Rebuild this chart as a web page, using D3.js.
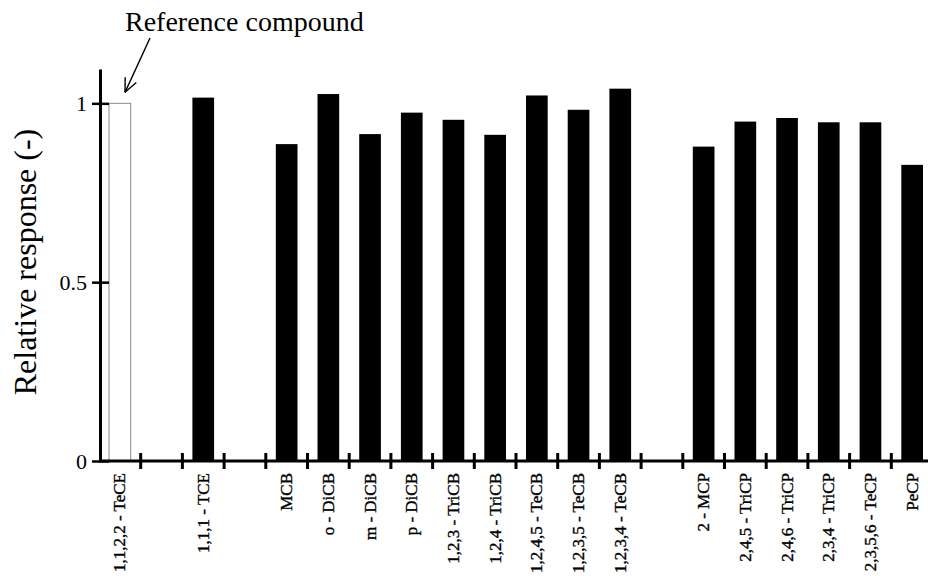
<!DOCTYPE html>
<html>
<head>
<meta charset="utf-8">
<script src="https://cdn.jsdelivr.net/npm/d3@7"></script>
<style>
  html, body { margin: 0; padding: 0; background: #fff; }
  svg { display: block; }
  text { font-family: "Liberation Serif", "Times New Roman", serif; fill: #000; }
</style>
</head>
<body>
<svg id="chart" width="928" height="576"></svg>
<script>
// ---- data ----
const categories = [
  "1,1,2,2 - TeCE",
  "1,1,1 - TCE",
  "MCB", "o - DiCB", "m - DiCB", "p - DiCB", "1,2,3 - TriCB", "1,2,4 - TriCB",
  "1,2,4,5 - TeCB", "1,2,3,5 - TeCB", "1,2,3,4 - TeCB",
  "2 - MCP", "2,4,5 - TriCP", "2,4,6 - TriCP", "2,3,4 - TriCP", "2,3,5,6 - TeCP", "PeCP"
];
const groups = [
  "ref",
  "ethane",
  "benzene", "benzene", "benzene", "benzene", "benzene", "benzene",
  "benzene", "benzene", "benzene",
  "phenol", "phenol", "phenol", "phenol", "phenol", "phenol"
];
const values = [
  1.000,
  1.016,
  0.886, 1.026, 0.914, 0.974, 0.954, 0.912,
  1.022, 0.982, 1.041,
  0.879, 0.949, 0.959, 0.947, 0.947, 0.828
];
const yTicks = [0, 0.5, 1];
const yLabel = "Relative response (-)";
const annotationText = "Reference compound";
const referenceCategory = "1,1,2,2 - TeCE";

// ---- build slot domain (one empty slot between groups) ----
const slots = [];
categories.forEach((c, i) => {
  if (i > 0 && groups[i] !== groups[i - 1]) slots.push("__gap" + i);
  slots.push(c);
});

const svg = d3.select("#chart");
const x0 = 99, xEnd = 933, yZero = 461, yTop = 69;

const x = d3.scaleBand()
  .domain(slots)
  .range([x0, xEnd])
  .paddingInner(0.48)
  .paddingOuter(0.24);

const y = d3.scaleLinear()
  .domain([0, 1.096])
  .range([yZero, yTop]);

const step = x.step();

// ---- bars ----
const data = categories.map((c, i) => ({ c, v: values[i] }));
svg.append("g").selectAll("rect")
  .data(data)
  .join("rect")
  .attr("x", d => x(d.c))
  .attr("width", x.bandwidth())
  .attr("y", d => y(d.v))
  .attr("height", d => y(0) - y(d.v))
  .attr("fill", d => d.c === referenceCategory ? "none" : "#000")
  .attr("stroke", d => d.c === referenceCategory ? "#8a8a8a" : "none")
  .attr("stroke-width", 1);

// ---- x axis ----
const xg = svg.append("g");
xg.append("line")
  .attr("x1", x0).attr("x2", 928)
  .attr("y1", yZero).attr("y2", yZero)
  .attr("stroke", "#000").attr("stroke-width", 3);
const boundaries = d3.range(1, slots.length + 1).map(i => x0 + i * step);
xg.selectAll("line.tk")
  .data(boundaries)
  .join("line")
  .attr("class", "tk")
  .attr("x1", d => d).attr("x2", d => d)
  .attr("y1", yZero - 8).attr("y2", yZero + 8)
  .attr("stroke", "#000").attr("stroke-width", 3);
xg.selectAll("text")
  .data(categories)
  .join("text")
  .attr("transform", d => `translate(${x(d) + x.bandwidth() / 2},${yZero + 12}) rotate(-90)`)
  .attr("text-anchor", "end")
  .attr("dy", "0.33em")
  .attr("font-size", 17)
  .attr("stroke", "#000")
  .attr("stroke-width", 0.35)
  .text(d => d);

// ---- y axis ----
const yAxis = d3.axisLeft(y)
  .tickValues(yTicks)
  .tickFormat(d3.format("~g"))
  .tickSizeOuter(0)
  .tickPadding(6);
const yg = svg.append("g").attr("transform", `translate(${x0 + 1},0)`).call(yAxis);
yg.select(".domain").attr("stroke", "#000").attr("stroke-width", 3);
yg.selectAll(".tick line").attr("x1", -8).attr("x2", 9).attr("stroke", "#000").attr("stroke-width", 2.5);
yg.selectAll(".tick text")
  .attr("x", -13)
  .attr("font-size", 22)
  .attr("font-family", "Liberation Serif, serif")
  .attr("fill", "#000");

svg.append("text")
  .attr("transform", `translate(36,262) rotate(-90)`)
  .attr("text-anchor", "middle")
  .attr("font-size", 32)
  .text(yLabel);

// ---- annotation ----
svg.append("text")
  .attr("x", 125).attr("y", 31)
  .attr("font-size", 28)
  .text(annotationText);

const refX = x(referenceCategory);
const tip = [refX + 16, y(1) - 11];
const tail = [tip[0] + 25, 38];
svg.append("line")
  .attr("x1", tail[0]).attr("y1", tail[1])
  .attr("x2", tip[0]).attr("y2", tip[1])
  .attr("stroke", "#000").attr("stroke-width", 1.4);
const ang = Math.atan2(tail[1] - tip[1], tail[0] - tip[0]);
[0.42, -0.42].forEach(a => {
  svg.append("line")
    .attr("x1", tip[0]).attr("y1", tip[1])
    .attr("x2", tip[0] + 15 * Math.cos(ang + a))
    .attr("y2", tip[1] + 15 * Math.sin(ang + a))
    .attr("stroke", "#000").attr("stroke-width", 1.4);
});
</script>
</body>
</html>
